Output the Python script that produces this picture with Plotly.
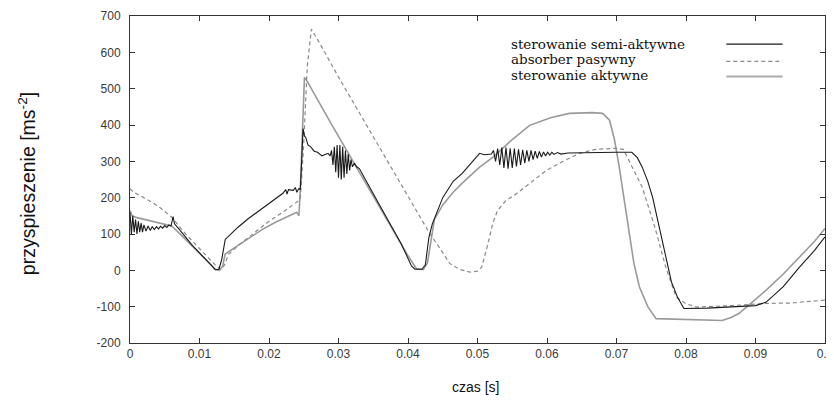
import plotly.graph_objects as go

# ---------------- data ----------------
semi_x = [0.0, 0.0002, 0.0004, 0.0006, 0.0008, 0.0010, 0.0012, 0.0014, 0.0016, 0.0018,
          0.0020, 0.0023, 0.0026, 0.0029, 0.0032, 0.0035, 0.0038, 0.0041, 0.0044, 0.0047,
          0.0050, 0.0053, 0.0056, 0.0059, 0.0062, 0.0064, 0.0070, 0.0080, 0.0090, 0.0100,
          0.0110, 0.0118, 0.0123, 0.0128, 0.0132, 0.0137, 0.0145, 0.0155, 0.0170, 0.0185,
          0.0200, 0.0212, 0.0220, 0.0224, 0.0226, 0.0228, 0.0235, 0.0238, 0.0240, 0.0243,
          0.0245, 0.0247, 0.0249, 0.0251, 0.0253, 0.0256, 0.0260, 0.0265, 0.0270, 0.0276,
          0.0280, 0.0285, 0.0288, 0.0290, 0.0292, 0.0294, 0.0296, 0.0298, 0.0300, 0.0302,
          0.0304, 0.0306, 0.0308, 0.0310, 0.0312, 0.0314, 0.0316, 0.0318, 0.0320, 0.0323,
          0.0326, 0.0330, 0.0350, 0.0370, 0.0390, 0.0405, 0.0410, 0.0420, 0.0425, 0.0430,
          0.0435, 0.0450, 0.0465, 0.0478, 0.0490, 0.0503, 0.0510, 0.0520, 0.0523, 0.0526,
          0.0529, 0.0532, 0.0535, 0.0538, 0.0541, 0.0544, 0.0547, 0.0550, 0.0553, 0.0556,
          0.0559, 0.0562, 0.0565, 0.0568, 0.0571, 0.0574, 0.0577, 0.0580, 0.0583, 0.0586,
          0.0589, 0.0592, 0.0595, 0.0598, 0.0601, 0.0604, 0.0607, 0.0610, 0.0615, 0.0620,
          0.0630, 0.0650, 0.0700, 0.0722, 0.0730, 0.0737, 0.0745, 0.0752, 0.0759, 0.0766,
          0.0772, 0.0779, 0.0788, 0.0797, 0.0830, 0.0870, 0.0900, 0.0915, 0.0940, 0.0963,
          0.0985, 0.1000]
semi_y = [160, 100, 150, 105, 140, 100, 135, 105, 130, 105,
          125, 108, 122, 110, 120, 112, 120, 114, 121, 116,
          123, 118, 125, 122, 148, 128, 115, 90, 68, 48,
          28, 10, 2, 3, 30, 85, 100, 118, 142, 163,
          185, 200, 212, 222, 210, 222, 220, 228, 215, 225,
          222, 300, 390, 370, 365, 345, 340, 328, 325, 315,
          318, 322, 315, 330, 290, 340, 270, 345, 255, 345,
          250, 340, 255, 330, 265, 320, 275, 305, 285, 295,
          285, 280, 211, 142, 74, 12, 3, 3, 15, 90,
          128, 200, 245, 267, 292, 322, 318, 320, 330, 300,
          335, 290, 338, 282, 338, 280, 336, 282, 335, 286,
          333, 290, 332, 295, 330, 300, 330, 305, 328, 308,
          327, 312, 326, 315, 325, 317, 325, 319, 324, 320,
          323, 324, 325, 325, 310, 284, 245, 201, 140, 83,
          25, -32, -75, -105, -104, -100, -97, -88, -45, 8,
          55, 92]

passive_x = [0.0, 0.0005, 0.0015, 0.0032, 0.0045, 0.0060, 0.0080, 0.0100, 0.0115, 0.0125,
             0.0131, 0.0136, 0.0142, 0.0160, 0.0180, 0.0200, 0.0220, 0.0238, 0.0245, 0.0250,
             0.0255, 0.0261, 0.0270, 0.0300, 0.0350, 0.0400, 0.0431, 0.0448, 0.0460, 0.0475,
             0.0489, 0.0500, 0.0506, 0.0515, 0.0522, 0.0529, 0.0540, 0.0556, 0.0575, 0.0599,
             0.0625, 0.0647, 0.0670, 0.0700, 0.0710, 0.0716, 0.0725, 0.0737, 0.0755, 0.0771,
             0.0786, 0.0800, 0.0815, 0.0866, 0.0915, 0.0950, 0.1000]
passive_y = [225, 215, 205, 187, 170, 146, 100, 60, 28, 10,
             2, 15, 45, 75, 105, 135, 160, 185, 195, 350,
             560, 664, 635, 532, 368, 204, 102, 55, 19, 2,
             -5, -2, 9, 73, 130, 165, 190, 211, 240, 275,
             302, 322, 333, 336, 333, 311, 275, 229, 120, 8,
             -74, -92, -101, -97, -91, -90, -82]

active_x = [0.0, 0.0003, 0.0010, 0.0030, 0.0045, 0.0060, 0.0080, 0.0100, 0.0115, 0.0122,
            0.0128, 0.0133, 0.0137, 0.0150, 0.0170, 0.0190, 0.0210, 0.0230, 0.0240, 0.0243,
            0.0245, 0.0251, 0.0255, 0.0290, 0.0330, 0.0370, 0.0400, 0.0412, 0.0422, 0.0428,
            0.0433, 0.0438, 0.0450, 0.0465, 0.0478, 0.0503, 0.0522, 0.0550, 0.0575, 0.0605,
            0.0632, 0.0665, 0.0680, 0.0690, 0.0697, 0.0704, 0.0711, 0.0718, 0.0725, 0.0733,
            0.0745, 0.0757, 0.0800, 0.0852, 0.0865, 0.0876, 0.0895, 0.0915, 0.0940, 0.0963,
            0.0985, 0.1000]
active_y = [165, 150, 145, 135, 128, 122, 85, 48, 18, 3,
            0, 10, 45, 62, 88, 112, 133, 152, 160, 150,
            220, 531, 520, 402, 270, 139, 40, 5, 2, 20,
            80, 140, 180, 215, 240, 284, 311, 360, 399, 420,
            432, 434, 432, 413, 360, 284, 195, 101, 20, -46,
            -100, -133, -135, -138, -130, -119, -88, -55, -10, 36,
            80, 115]

series_names = ["sterowanie semi-aktywne", "absorber pasywny", "sterowanie aktywne"]
x_tick_vals = [0, 0.01, 0.02, 0.03, 0.04, 0.05, 0.06, 0.07, 0.08, 0.09, 0.1]
x_tick_text = ["0", "0.01", "0.02", "0.03", "0.04", "0.05", "0.06", "0.07", "0.08", "0.09", "0.1"]
y_tick_vals = [-200, -100, 0, 100, 200, 300, 400, 500, 600, 700]
y_tick_text = ["-200", "-100", "0", "100", "200", "300", "400", "500", "600", "700"]

# ---------------- figure ----------------
fig = go.Figure()
fig.add_trace(go.Scatter(x=active_x, y=active_y, mode="lines", name=series_names[2],
                         line=dict(color="#9a9a9a", width=1.6)))
fig.add_trace(go.Scatter(x=passive_x, y=passive_y, mode="lines", name=series_names[1],
                         line=dict(color="#8a8a8a", width=1.2, dash="4px,3px")))
fig.add_trace(go.Scatter(x=semi_x, y=semi_y, mode="lines", name=series_names[0],
                         line=dict(color="#1a1a1a", width=1.1)))

axis_common = dict(showgrid=False, zeroline=False, showline=True, linecolor="#333333",
                   linewidth=1, mirror="ticks", ticks="inside", ticklen=5,
                   tickcolor="#333333", automargin=False, ticklabeloverflow="allow",
                   tickfont=dict(family="Liberation Sans, Arial, sans-serif", size=12,
                                 color="#3a3a3a"))

# The page body has an 8px default margin, so the figure is sized/placed to compensate.
fig.update_layout(
    width=826, height=388,
    margin=dict(l=122, r=9, t=8, b=53),
    paper_bgcolor="white", plot_bgcolor="white",
    showlegend=False,
    xaxis=dict(range=[0, 0.1], tickvals=x_tick_vals, ticktext=x_tick_text, **axis_common),
    yaxis=dict(range=[-200, 700], tickvals=y_tick_vals, ticktext=y_tick_text,
               ticklabelstandoff=6, **axis_common),
)

# axis titles
fig.add_annotation(text="czas [s]", xref="paper", yref="paper", x=0.497, y=-0.134,
                   xanchor="center", yanchor="middle", showarrow=False,
                   font=dict(family="Liberation Sans, Arial, sans-serif", size=14, color="#111"))
fig.add_annotation(text="przyspieszenie [ms<sup>-2</sup>]", xref="paper", yref="paper",
                   x=-0.149, y=0.487, textangle=-90, xanchor="center", yanchor="middle",
                   showarrow=False,
                   font=dict(family="Liberation Sans, Arial, sans-serif", size=19.5, color="#111"))

# custom legend (text left, line sample right)
leg_text_y = [0.913, 0.867, 0.821]
leg_line_y = [0.914, 0.861, 0.815]
leg_styles = [dict(color="#1a1a1a", width=1.4),
              dict(color="#8a8a8a", width=1.2, dash="4px,3px"),
              dict(color="#aaaaaa", width=2.2)]
for name, ty, ly, st in zip(series_names, leg_text_y, leg_line_y, leg_styles):
    fig.add_annotation(text=name, xref="paper", yref="paper", x=0.546, y=ty,
                       xanchor="left", yanchor="middle", showarrow=False,
                       font=dict(family="DejaVu Serif, Liberation Serif, serif", size=13.5,
                                 color="#111"))
    fig.add_shape(type="line", xref="paper", yref="paper", x0=0.858, x1=0.939,
                  y0=ly, y1=ly, line=st)

fig.write_html("out.html")
